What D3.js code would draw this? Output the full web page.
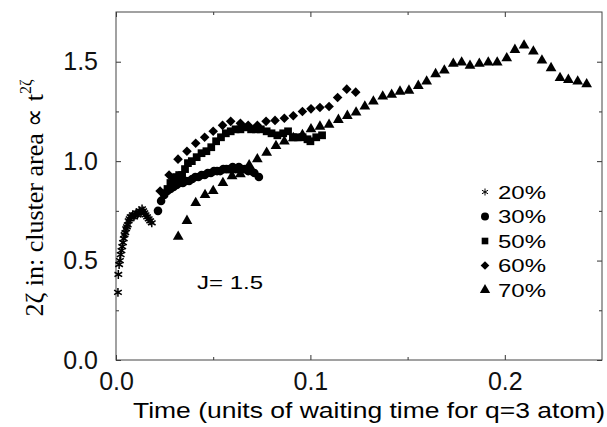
<!DOCTYPE html>
<html>
<head>
<meta charset="utf-8">
<script src="https://cdn.jsdelivr.net/npm/d3@7/dist/d3.min.js"></script>
<style>
  body { margin: 0; background: #fff; }
  svg { display: block; }
  .tick text { font-family: "Liberation Sans", Arial, sans-serif; fill: #111; }
</style>
</head>
<body>
<div class="chart"></div>
<script>
// 20% (asterisks)
var series20 = [
  [0.0010, 0.34], [0.0012, 0.43], [0.0016, 0.48], [0.0020, 0.50], [0.0024, 0.53],
  [0.0028, 0.55], [0.0032, 0.57], [0.0036, 0.59], [0.0040, 0.61], [0.0044, 0.63],
  [0.0048, 0.64], [0.0052, 0.66], [0.0056, 0.67], [0.0060, 0.68], [0.0065, 0.70],
  [0.0070, 0.71], [0.0075, 0.72], [0.0080, 0.72], [0.0086, 0.73], [0.0092, 0.72],
  [0.0098, 0.73], [0.0104, 0.74], [0.0110, 0.73], [0.0116, 0.74], [0.0122, 0.75],
  [0.0128, 0.74], [0.0134, 0.76], [0.0140, 0.75], [0.0146, 0.74], [0.0152, 0.73],
  [0.0160, 0.72], [0.0168, 0.71], [0.0176, 0.70], [0.0184, 0.69]
];
// 30% (circles)
var series30 = [
  [0.0216, 0.75], [0.0232, 0.80], [0.0248, 0.83], [0.0264, 0.85], [0.0280, 0.86],
  [0.0296, 0.87], [0.0312, 0.88], [0.0328, 0.89], [0.0344, 0.89], [0.0360, 0.90],
  [0.0376, 0.90], [0.0392, 0.91], [0.0408, 0.92], [0.0424, 0.92], [0.0440, 0.93],
  [0.0456, 0.93], [0.0472, 0.94], [0.0488, 0.94], [0.0504, 0.95], [0.0520, 0.95],
  [0.0536, 0.95], [0.0552, 0.96], [0.0568, 0.96], [0.0584, 0.96], [0.0600, 0.97],
  [0.0616, 0.96], [0.0632, 0.97], [0.0648, 0.96], [0.0664, 0.96], [0.0680, 0.95],
  [0.0696, 0.95], [0.0712, 0.94], [0.0735, 0.92]
];
// 50% (squares)
var series50 = [
  [0.0265, 0.86], [0.0280, 0.89], [0.0295, 0.91], [0.0310, 0.92], [0.0325, 0.93],
  [0.0340, 0.93], [0.0355, 0.96], [0.0370, 0.99], [0.0390, 1.00], [0.0415, 1.02],
  [0.0440, 1.04], [0.0465, 1.05], [0.0490, 1.07], [0.0515, 1.10], [0.0540, 1.12],
  [0.0565, 1.14], [0.0590, 1.15], [0.0615, 1.16], [0.0640, 1.16], [0.0665, 1.17],
  [0.0695, 1.16], [0.0720, 1.16], [0.0745, 1.16], [0.0775, 1.15], [0.0800, 1.14],
  [0.0830, 1.13], [0.0860, 1.14], [0.0885, 1.15], [0.0910, 1.12], [0.0935, 1.12],
  [0.0960, 1.12], [0.0985, 1.11], [0.1000, 1.10], [0.1030, 1.12], [0.1060, 1.13]
];
// 60% (diamonds)
var series60 = [
  [0.0227, 0.85], [0.0273, 0.93], [0.0319, 1.01], [0.0365, 1.05], [0.0410, 1.09],
  [0.0456, 1.12], [0.0500, 1.15], [0.0548, 1.18], [0.0590, 1.20], [0.0640, 1.19],
  [0.0680, 1.18], [0.0727, 1.18], [0.0772, 1.20], [0.0818, 1.205], [0.0866, 1.216],
  [0.0912, 1.228], [0.0959, 1.25], [0.1003, 1.263], [0.1049, 1.27], [0.1096, 1.275],
  [0.1140, 1.32], [0.1187, 1.362], [0.1233, 1.347]
];
// 70% (triangles)
var series70 = [
  [0.0320, 0.62], [0.0365, 0.70], [0.0410, 0.79], [0.0458, 0.83], [0.0500, 0.85],
  [0.0550, 0.89], [0.0597, 0.925], [0.0640, 0.935], [0.0685, 0.98], [0.0727, 1.01],
  [0.0775, 1.043], [0.0823, 1.077], [0.0866, 1.099], [0.0912, 1.116], [0.0959, 1.132],
  [0.1003, 1.161], [0.1049, 1.174], [0.1096, 1.183], [0.1144, 1.208], [0.1190, 1.228],
  [0.1235, 1.245], [0.1280, 1.275], [0.1324, 1.30], [0.1372, 1.325], [0.1418, 1.334],
  [0.1461, 1.35], [0.1507, 1.355], [0.1555, 1.379], [0.1598, 1.401], [0.1644, 1.438],
  [0.1689, 1.456], [0.1735, 1.49], [0.1778, 1.496], [0.1821, 1.48], [0.1869, 1.49],
  [0.1915, 1.496], [0.1961, 1.496], [0.2010, 1.518], [0.2052, 1.56], [0.2099, 1.582],
  [0.2147, 1.552], [0.2191, 1.506], [0.2238, 1.468], [0.2284, 1.418], [0.2327, 1.409],
  [0.2375, 1.401], [0.2421, 1.387]
];

var legendLabels = ['20%', '30%', '50%', '60%', '70%'];
var xTicks = [0, 0.1, 0.2];
var xMinorTicks = [0.05, 0.15];
var yTicks = [0, 0.5, 1.0, 1.5];
var yMinorTicks = [0.25, 0.75, 1.25];

var width = 607, height = 427;
var plotLeft = 116, plotRight = 602, plotTop = 12, plotBottom = 360;

var svg = d3.select('.chart').append('svg')
  .attr('width', width)
  .attr('height', height);

var x = d3.scaleLinear().domain([0, 0.25]).range([plotLeft, plotRight]);
var y = d3.scaleLinear().domain([0, 1.75]).range([plotBottom, plotTop]);

// axes, ticks pointing inward
function drawAxis(axis, tx, ty, labels) {
  var g = svg.append('g').attr('transform', 'translate(' + tx + ',' + ty + ')').call(axis);
  g.select('.domain').remove();
  g.selectAll('.tick line').attr('stroke', '#333').attr('stroke-width', 1);
  if (!labels) g.selectAll('.tick text').remove();
  return g;
}
var fmt = d3.format('.1f');

drawAxis(d3.axisBottom(x).tickValues(xTicks).tickSize(-5).tickPadding(12).tickFormat(fmt), 0, plotBottom, true)
  .selectAll('.tick text').style('font-size', '25px');
drawAxis(d3.axisBottom(x).tickValues(xMinorTicks).tickSize(-3).tickFormat(''), 0, plotBottom, false);
drawAxis(d3.axisTop(x).tickValues(xTicks).tickSize(-5).tickFormat(''), 0, plotTop, false);
drawAxis(d3.axisTop(x).tickValues(xMinorTicks).tickSize(-3).tickFormat(''), 0, plotTop, false);

drawAxis(d3.axisLeft(y).tickValues(yTicks).tickSize(-5).tickPadding(18).tickFormat(fmt), plotLeft, 0, true)
  .selectAll('.tick text').style('font-size', '25px');
drawAxis(d3.axisLeft(y).tickValues(yMinorTicks).tickSize(-3).tickFormat(''), plotLeft, 0, false);
drawAxis(d3.axisRight(y).tickValues(yTicks).tickSize(-5).tickFormat(''), plotRight, 0, false);
drawAxis(d3.axisRight(y).tickValues(yMinorTicks).tickSize(-3).tickFormat(''), plotRight, 0, false);

// frame
svg.append('rect')
  .attr('x', plotLeft).attr('y', plotTop)
  .attr('width', plotRight - plotLeft).attr('height', plotBottom - plotTop)
  .attr('fill', 'none').attr('stroke', '#444').attr('stroke-width', 1);

// markers
var markers = [
  {data: series20, type: d3.symbolAsterisk, size: 55, stroke: true, rot: 0},
  {data: series30, type: d3.symbolCircle, size: 58, stroke: false, rot: 0},
  {data: series50, type: d3.symbolSquare, size: 60, stroke: false, rot: 0},
  {data: series60, type: d3.symbolSquare, size: 46, stroke: false, rot: 45},
  {data: series70, type: d3.symbolTriangle, size: 50, stroke: false, rot: 0}
];

markers.forEach(function(m) {
  svg.append('g').selectAll('path')
    .data(m.data)
    .enter()
    .append('path')
    .attr('d', d3.symbol().type(m.type).size(m.size))
    .attr('transform', function(d) {
      return 'translate(' + x(d[0]) + ',' + y(d[1]) + ') rotate(' + m.rot + ')';
    })
    .attr('fill', m.stroke ? 'none' : '#000')
    .attr('stroke', m.stroke ? '#000' : 'none')
    .attr('stroke-width', 1.5);
});

// legend
var legendSizes = [34, 50, 44, 38, 46];
var legend = svg.append('g');
legendLabels.forEach(function(label, i) {
  var m = markers[i];
  var ly = 192 + i * 24.5;
  legend.append('path')
    .attr('d', d3.symbol().type(m.type).size(legendSizes[i]))
    .attr('transform', 'translate(485,' + ly + ') rotate(' + m.rot + ')')
    .attr('fill', m.stroke ? 'none' : '#000')
    .attr('stroke', m.stroke ? '#000' : 'none')
    .attr('stroke-width', 1);
  legend.append('text')
    .attr('x', 498).attr('y', ly)
    .attr('dy', '0.36em')
    .attr('textLength', 48)
    .attr('lengthAdjust', 'spacingAndGlyphs')
    .style('font-family', '"Liberation Sans", Arial, sans-serif')
    .style('font-size', '19px')
    .text(label);
});

// annotation
svg.append('text')
  .attr('x', 197).attr('y', 289)
  .attr('textLength', 66)
  .attr('lengthAdjust', 'spacingAndGlyphs')
  .style('font-family', '"Liberation Sans", Arial, sans-serif')
  .style('font-size', '18px')
  .text('J= 1.5');

// x title
svg.append('text')
  .attr('x', 133).attr('y', 418)
  .attr('textLength', 472)
  .attr('lengthAdjust', 'spacingAndGlyphs')
  .style('font-family', '"Liberation Sans", Arial, sans-serif')
  .style('font-size', '22px')
  .text('Time (units of waiting time for q=3 atom)');

// y title
var yt = svg.append('text')
  .attr('transform', 'translate(43,198) rotate(-90)')
  .attr('text-anchor', 'middle')
  .style('font-family', '"Liberation Serif", "Times New Roman", serif')
  .style('font-size', '26px');
yt.append('tspan').text('2ζ in: cluster area ∝ t');
yt.append('tspan').attr('dy', -12).style('font-size', '16px').text('2ζ');
</script>
</body>
</html>
